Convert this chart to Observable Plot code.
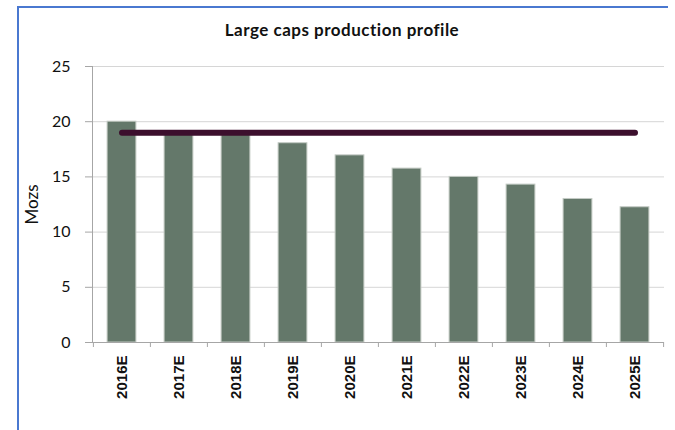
<!DOCTYPE html>
<html>
<head>
<meta charset="utf-8">
<script src="https://cdn.jsdelivr.net/npm/d3@7"></script>
<script src="https://cdn.jsdelivr.net/npm/@observablehq/plot@0.6"></script>
<style>
  html, body { margin: 0; padding: 0; background: #fff; overflow: hidden; }
  #wrap { position: relative; width: 675px; height: 430px; overflow: hidden; }
  #bTop { position: absolute; left: 17px; top: 6px; width: 651px; height: 2px; background: #4a78d0; }
  #bLeft { position: absolute; left: 17px; top: 6px; width: 2px; height: 424px; background: #4a78d0; }
  #title { position: absolute; left: 0; top: 19px; width: 684px; text-align: center;
           font-family: Lato, sans-serif; font-weight: bold; font-size: 17px; letter-spacing: 0.5px; color: #111; }
  #chart { position: absolute; left: 0; top: 0; }
</style>
</head>
<body>
<div id="wrap">
  <div id="bTop"></div>
  <div id="bLeft"></div>
  <div id="title"></div>
  <div id="chart"></div>
</div>
<script>
const categories = ["2016E","2017E","2018E","2019E","2020E","2021E","2022E","2023E","2024E","2025E"];
const production = [20.0, 19.0, 19.0, 18.05, 16.95, 15.75, 15.0, 14.3, 13.0, 12.25];
const averageLevel = 19.0;
const yTicks = [0, 5, 10, 15, 20, 25];
const yLabel = "Mozs";
const titleText = "Large caps production profile";

const W = 675, H = 430, mL = 92, mR = 11, mT = 66, mB = 88;
const step = (W - mL - mR) / categories.length;

const bars = categories.map((c, i) => ({cat: c, value: production[i]}));
const avg = categories.map(c => ({cat: c, value: averageLevel}));

const chart = Plot.plot({
  width: W, height: H,
  marginLeft: mL, marginRight: mR, marginTop: mT, marginBottom: mB,
  style: {fontFamily: "Lato, sans-serif", color: "#111", background: "transparent"},
  x: {domain: categories, padding: 0},
  y: {domain: [0, 25]},
  marks: [
    Plot.gridY(yTicks, {stroke: "#d6d6d6", strokeOpacity: 1}),
    Plot.barY(bars, {x: "cat", y: "value", fill: "#64786a", stroke: "#c3cac4", strokeWidth: 1,
      insetLeft: (step - 29) / 2, insetRight: (step - 29) / 2}),
    Plot.frame({anchor: "left", stroke: "#a6a6a6"}),
    Plot.ruleY([0], {stroke: "#a6a6a6"}),
    Plot.ruleX(categories, {x: d => d, y1: 0, y2: 0, insetBottom: -5, dx: -step / 2, stroke: "#a6a6a6"}),
    Plot.ruleX(categories.slice(-1), {x: d => d, y1: 0, y2: 0, insetBottom: -5, dx: step / 2, stroke: "#a6a6a6"}),
    Plot.axisY({ticks: yTicks, tickSize: 7, tickPadding: 15, fontSize: 16, stroke: "#a6a6a6",
      label: yLabel, labelAnchor: "center", labelArrow: "none", labelOffset: 67}),
    Plot.axisX({tickSize: 0, tickRotate: -90, tickPadding: 13, fontSize: 15, fontWeight: "bold",
      fontFamily: "Liberation Sans, Arial, sans-serif", label: null}),
    Plot.lineY(avg, {x: "cat", y: "value", stroke: "#3c0f2d", strokeWidth: 6, strokeLinecap: "round"})
  ]
});
chart.querySelectorAll("[aria-label='y-axis label'] text").forEach(t => t.setAttribute("font-size", "17"));
document.getElementById("chart").appendChild(chart);
document.getElementById("title").textContent = titleText;
</script>
</body>
</html>
